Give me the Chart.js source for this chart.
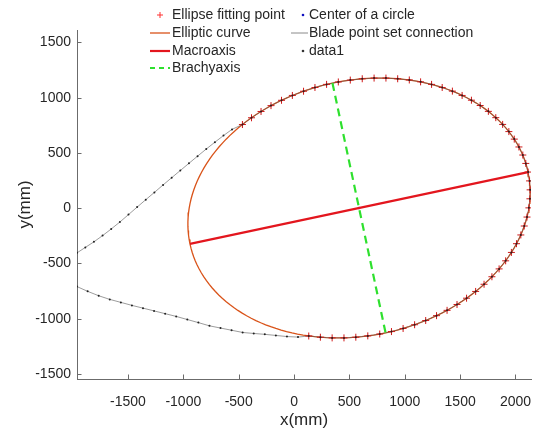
<!DOCTYPE html>
<html>
<head>
<meta charset="utf-8">
<script src="https://cdn.jsdelivr.net/npm/chart.js@4.4.1/dist/chart.umd.min.js"></script>
<style>
  html, body { margin: 0; padding: 0; background: #fff; }
  #wrap { width: 536px; height: 434px; }
</style>
</head>
<body>
<div id="wrap"><canvas id="bladeChart" width="536" height="434"></canvas></div>
<script>
// blade profile, leading edge side (upper branch), left -> right
const upperX = [-1960, -1885, -1807, -1729, -1651, -1573, -1495, -1417, -1339, -1261, -1183, -1105, -1027, -949, -871, -793, -715, -637, -560];
const upperY = [-404, -355, -304, -248, -188, -125, -58, 10, 77, 143, 210, 276, 341, 406, 471, 535, 597, 657, 713];

// points used for the ellipse fit (clockwise from upper left)
const fitX = [-466, -384, -298, -208, -113, -15, 86, 189, 294, 400, 508, 616, 723, 830, 936, 1041, 1143, 1242, 1338, 1430,
  1518, 1602, 1681, 1755, 1822, 1884, 1940, 1989, 2031, 2066, 2093, 2114, 2127, 2132, 2130, 2121, 2104, 2079, 2048, 2009,
  1963, 1911, 1852, 1787, 1716, 1640, 1558, 1472, 1382, 1287, 1189, 1089, 985, 880, 774, 666, 558, 451, 344, 238, 133];
const fitY = [757, 818, 875, 928, 976, 1020, 1058, 1092, 1120, 1142, 1159, 1171, 1177, 1177, 1171, 1160, 1143, 1120, 1092, 1059,
  1020, 977, 929, 876, 819, 758, 693, 625, 554, 481, 405, 327, 247, 166, 85, 3, -80, -161, -242, -321,
  -400, -476, -549, -620, -688, -753, -814, -871, -924, -972, -1016, -1054, -1088, -1116, -1138, -1155, -1167, -1173, -1173, -1167, -1156];

// lower branch, right -> left
const lowerX = [36, -64, -164, -264, -364, -464, -564, -664, -764, -864, -964, -1064, -1164, -1264, -1364, -1464, -1564, -1664, -1764, -1864, -1960];
const lowerY = [-1166, -1161, -1151, -1141, -1133, -1124, -1104, -1084, -1064, -1035, -1007, -979, -954, -929, -904, -879, -852, -825, -792, -752, -709];

// fitted ellipse
const ellipseCenter = [587, 2];
const semiMajor = 1561;
const semiMinor = 1155;
const tiltDeg = 12;

const macroX = [-940, 2114];
const macroY = [-323, 327];
const brachyX = [347, 827];
const brachyY = [1132, -1128];

const xTicks = [-1500, -1000, -500, 0, 500, 1000, 1500, 2000];
const yTicks = [-1500, -1000, -500, 0, 500, 1000, 1500];

const toPts = (xs, ys) => xs.map((v, i) => ({ x: v, y: ys[i] }));

const bladePts = toPts(upperX, upperY).concat(toPts(fitX, fitY), toPts(lowerX, lowerY));

const th = tiltDeg * Math.PI / 180;
const ellipsePts = [];
for (let k = 0; k <= 180; k++) {
  const t = k * 2 * Math.PI / 180;
  ellipsePts.push({
    x: ellipseCenter[0] + semiMajor * Math.cos(t) * Math.cos(th) - semiMinor * Math.sin(t) * Math.sin(th),
    y: ellipseCenter[1] + semiMajor * Math.cos(t) * Math.sin(th) + semiMinor * Math.sin(t) * Math.cos(th)
  });
}

const axisColor = '#6b6b6b';
const textColor = '#262626';
const fontFam = "'Liberation Sans', Arial, Helvetica, sans-serif";

// MATLAB style ticks pointing into the plot
const inwardTicks = {
  id: 'inwardTicks',
  afterDatasetsDraw(chart) {
    const { ctx, chartArea: a, scales: { x, y } } = chart;
    ctx.save();
    ctx.strokeStyle = axisColor;
    ctx.lineWidth = 1;
    ctx.beginPath();
    x.ticks.forEach(t => {
      const px = Math.round(x.getPixelForValue(t.value)) + 0.5;
      ctx.moveTo(px, a.bottom);
      ctx.lineTo(px, a.bottom - 4.5);
    });
    y.ticks.forEach(t => {
      const py = Math.round(y.getPixelForValue(t.value)) + 0.5;
      ctx.moveTo(a.left, py);
      ctx.lineTo(a.left + 4.5, py);
    });
    ctx.stroke();
    ctx.restore();
  }
};

// two-column legend without box, like the figure
const legendItems = [
  { label: 'Ellipse fitting point', kind: 'cross', color: '#ff3030', col: 0, row: 0 },
  { label: 'Center of a circle', kind: 'dot', color: '#1010c0', col: 1, row: 0 },
  { label: 'Elliptic curve', kind: 'line', color: '#D95319', width: 1.3, col: 0, row: 1 },
  { label: 'Blade point set connection', kind: 'line', color: '#8a8a8a', width: 1, col: 1, row: 1 },
  { label: 'Macroaxis', kind: 'line', color: '#e3161e', width: 2.2, col: 0, row: 2 },
  { label: 'data1', kind: 'dot', color: '#333', col: 1, row: 2 },
  { label: 'Brachyaxis', kind: 'dash', color: '#2ee02e', width: 2.2, col: 0, row: 3 }
];
const legendCols = [{ x0: 150, x1: 170, mark: 160, text: 172 }, { x0: 291, x1: 308, mark: 303, text: 309 }];
const legendRows = [15, 33, 51, 68];

const cornerLegend = {
  id: 'cornerLegend',
  afterDraw(chart) {
    const ctx = chart.ctx;
    ctx.save();
    ctx.font = '14px ' + fontFam;
    ctx.textBaseline = 'middle';
    legendItems.forEach(it => {
      const c = legendCols[it.col];
      const yy = legendRows[it.row];
      ctx.strokeStyle = it.color;
      ctx.fillStyle = it.color;
      if (it.kind === 'line' || it.kind === 'dash') {
        ctx.lineWidth = it.width;
        ctx.setLineDash(it.kind === 'dash' ? [5, 4] : []);
        ctx.beginPath();
        ctx.moveTo(c.x0, yy);
        ctx.lineTo(c.x1, yy);
        ctx.stroke();
        ctx.setLineDash([]);
      } else if (it.kind === 'cross') {
        ctx.lineWidth = 1;
        ctx.beginPath();
        ctx.moveTo(c.mark - 3, yy); ctx.lineTo(c.mark + 3, yy);
        ctx.moveTo(c.mark, yy - 3); ctx.lineTo(c.mark, yy + 3);
        ctx.stroke();
      } else {
        ctx.beginPath();
        ctx.arc(c.mark, yy, 1.3, 0, Math.PI * 2);
        ctx.fill();
      }
      ctx.fillStyle = textColor;
      ctx.fillText(it.label, c.text, yy);
    });
    ctx.restore();
  }
};

const plainNum = v => String(v);

const ctx = document.getElementById('bladeChart').getContext('2d');
new Chart(ctx, {
  type: 'scatter',
  data: {
    datasets: [
      {
        label: 'Ellipse fitting point',
        data: toPts(fitX, fitY),
        pointStyle: 'cross',
        pointRadius: 3.5,
        borderColor: '#d01818',
        borderWidth: 1,
        showLine: false,
        order: 4
      },
      {
        label: 'Center of a circle',
        data: [{ x: ellipseCenter[0], y: ellipseCenter[1] }],
        pointRadius: 1.2,
        backgroundColor: '#1010c0',
        borderWidth: 0,
        showLine: false,
        order: 7
      },
      {
        label: 'Elliptic curve',
        data: ellipsePts,
        showLine: true,
        borderColor: '#D95319',
        borderWidth: 1.3,
        pointRadius: 0,
        order: 6
      },
      {
        label: 'Blade point set connection',
        data: bladePts,
        showLine: true,
        borderColor: 'rgba(90,90,90,0.6)',
        borderWidth: 1,
        pointRadius: 0,
        order: 5
      },
      {
        label: 'Macroaxis',
        data: toPts(macroX, macroY),
        showLine: true,
        borderColor: '#e3161e',
        borderWidth: 2.2,
        pointRadius: 0,
        order: 3
      },
      {
        label: 'Brachyaxis',
        data: toPts(brachyX, brachyY),
        showLine: true,
        borderColor: '#2ee02e',
        borderWidth: 2.2,
        borderDash: [8, 5],
        pointRadius: 0,
        order: 2
      },
      {
        label: 'data1',
        data: bladePts,
        showLine: false,
        pointRadius: 1,
        backgroundColor: '#222',
        borderWidth: 0,
        order: 1
      }
    ]
  },
  options: {
    responsive: false,
    animation: false,
    layout: { padding: { top: 30, right: 5, left: 0, bottom: 0 } },
    plugins: {
      legend: { display: false },
      tooltip: { enabled: false }
    },
    scales: {
      x: {
        type: 'linear',
        min: -1960,
        max: 2140,
        afterBuildTicks: s => { s.ticks = xTicks.map(v => ({ value: v })); },
        afterFit: s => { s.height = 55; s.paddingLeft = 0; s.paddingRight = 0; },
        grid: { display: false, drawTicks: false },
        border: { display: true, color: axisColor, width: 1 },
        ticks: { color: textColor, padding: 15, font: { family: fontFam, size: 14 }, callback: plainNum },
        title: {
          display: true,
          text: 'x(mm)',
          color: textColor,
          font: { family: fontFam, size: 17 },
          padding: { top: 0, bottom: 3 }
        }
      },
      y: {
        type: 'linear',
        min: -1545,
        max: 1612,
        afterBuildTicks: s => { s.ticks = yTicks.map(v => ({ value: v })); },
        afterFit: s => { s.width = 77; s.paddingTop = 0; s.paddingBottom = 0; },
        grid: { display: false, drawTicks: false },
        border: { display: true, color: axisColor, width: 1 },
        ticks: { color: textColor, padding: 6, font: { family: fontFam, size: 14 }, callback: plainNum },
        title: {
          display: true,
          text: 'y(mm)',
          color: textColor,
          font: { family: fontFam, size: 17 },
          padding: { top: 15, bottom: 0 }
        }
      }
    }
  },
  plugins: [inwardTicks, cornerLegend]
});
</script>
</body>
</html>
